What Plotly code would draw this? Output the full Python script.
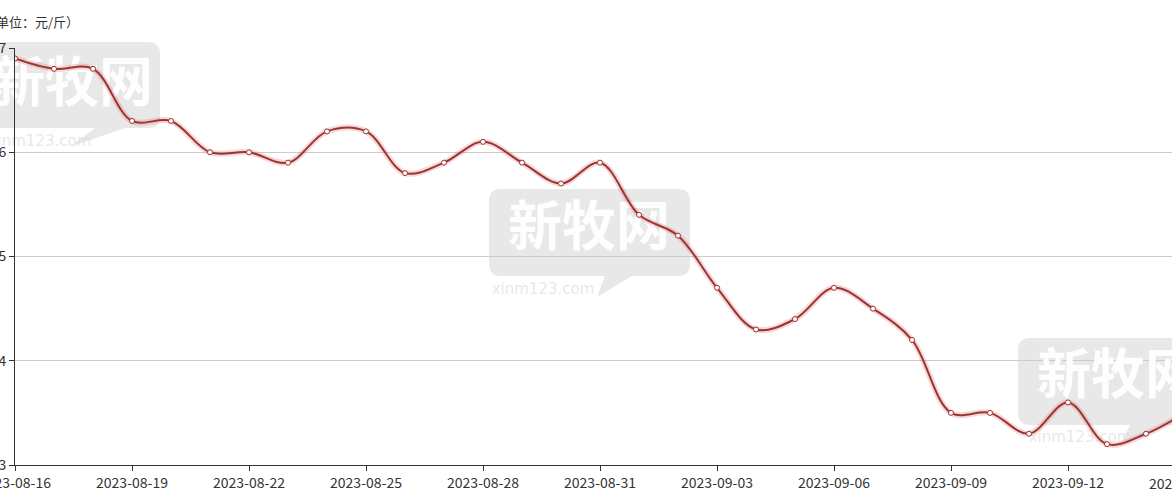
import plotly.graph_objects as go
import pandas as pd

# ---- data ----
dates = pd.date_range("2023-08-16", "2023-09-15", freq="D").strftime("%Y-%m-%d").tolist()
prices = [6.9, 6.8, 6.8, 6.3, 6.3, 6.0, 6.0, 5.9, 6.2, 6.2,
          5.8, 5.9, 6.1, 5.9, 5.7, 5.9, 5.4, 5.2, 4.7, 4.3,
          4.4, 4.7, 4.5, 4.2, 3.5, 3.5, 3.3, 3.6, 3.2, 3.3, 3.5]
y_ticks = [3, 4, 5, 6, 7]
unit_label = "（单位：元/斤）"
watermark_text = "新牧网"
watermark_url = "xinm123.com"

# ---- geometry helpers (pixel layout of the figure) ----
W, H = 1172, 499
L, R, T, B = 15, 0, 48, 34
PX_PER_DAY = 39.0
x_max = (W - L - R) / PX_PER_DAY
idx = list(range(len(dates)))
Y0, Y1 = 3, 7
plot_h = H - T - B

def px2x(px):
    return (px - L) / PX_PER_DAY

def py2y(py):
    return Y0 + (H - B - py) / plot_h * (Y1 - Y0)

def px2paper(px):
    return (px - L) / (W - L - R)

def py2paper(py):
    return (H - B - py) / plot_h

def bubble_path(x0, y0, x1, y1, r, tail):
    def P(a, b):
        return f"{px2paper(a):.5f},{py2paper(b):.5f}"
    p = f"M {P(x0 + r, y0)} L {P(x1 - r, y0)} Q {P(x1, y0)} {P(x1, y0 + r)} "
    p += f"L {P(x1, y1 - r)} Q {P(x1, y1)} {P(x1 - r, y1)} "
    tx0, tx1, tipx, tipy = tail
    p += f"L {P(tx1, y1)} L {P(tipx, tipy)} L {P(tx0, y1)} "
    p += f"L {P(x0 + r, y1)} Q {P(x0, y1)} {P(x0, y1 - r)} "
    p += f"L {P(x0, y0 + r)} Q {P(x0, y0)} {P(x0 + r, y0)} Z"
    return p

boxes = [
    # x0, y0, x1, y1, tail(x0, x1, tipx, tipy), text center, url pos
    (-45, 42, 160, 128, (95, 125, 70, 147), (72, 88), (40, 142)),
    (489, 189, 690, 276, (605, 632, 597, 297), (589, 232), (543, 290)),
    (1018, 338, 1230, 425, (1130, 1160, 1120, 446), (1118, 380), (1080, 438)),
]

fig = go.Figure()

shapes = []
for b in boxes:
    shapes.append(dict(type="path", xref="paper", yref="paper", layer="below",
                       path=bubble_path(b[0], b[1], b[2], b[3], 12, b[4]),
                       fillcolor="rgba(200,200,200,0.42)", line=dict(width=0)))

# watermark texts (drawn beneath the line)
fig.add_trace(go.Scatter(
    x=[px2x(b[5][0]) for b in boxes], y=[py2y(b[5][1]) for b in boxes],
    mode="text", text=[watermark_text] * len(boxes),
    textfont=dict(size=54, color="rgba(255,255,255,0.95)",
                  family="Noto Sans CJK SC", weight="bold"),
    cliponaxis=False, hoverinfo="skip", showlegend=False))
fig.add_trace(go.Scatter(
    x=[px2x(b[6][0]) for b in boxes], y=[py2y(b[6][1]) for b in boxes],
    mode="text", text=[watermark_url] * len(boxes),
    textfont=dict(size=15, color="rgba(222,222,222,0.7)", family="Verdana, DejaVu Sans"),
    cliponaxis=False, hoverinfo="skip", showlegend=False))

line_color = "#983535"
# glow under line
fig.add_trace(go.Scatter(
    x=idx, y=prices, mode="lines",
    line=dict(color="rgba(235,110,110,0.28)", width=6, shape="spline", smoothing=1),
    hoverinfo="skip", showlegend=False))
# main line
fig.add_trace(go.Scatter(
    x=idx, y=prices, mode="lines+markers",
    line=dict(color=line_color, width=2, shape="spline", smoothing=1),
    marker=dict(size=5, color="white", line=dict(color=line_color, width=1)),
    customdata=dates, hovertemplate="%{customdata}: %{y}<extra></extra>",
    showlegend=False))

tick_idx = idx[::3]
fig.update_layout(
    width=W, height=H,
    margin=dict(l=L, r=R, t=T, b=B, pad=0),
    paper_bgcolor="white", plot_bgcolor="white",
    font=dict(family="Microsoft YaHei, Noto Sans CJK SC, sans-serif", size=14, color="#333"),
    shapes=shapes,
    xaxis=dict(range=[0, x_max], tickvals=tick_idx, ticktext=[dates[i] for i in tick_idx],
               showgrid=False, zeroline=False, showline=True, linecolor="#333", linewidth=1,
               ticks="outside", ticklen=5, tickcolor="#333", automargin=False,
               ticklabeloverflow="allow", tickfont=dict(size=14, color="#333")),
    yaxis=dict(range=[Y0, Y1], tickvals=y_ticks, showgrid=True, gridcolor="#cccccc",
               zeroline=False, showline=True, linecolor="#333", linewidth=1,
               ticks="outside", ticklen=5, tickcolor="#333", automargin=False,
               ticklabeloverflow="allow", tickfont=dict(size=14, color="#333")),
    annotations=[
        dict(text=unit_label, xref="paper", yref="paper",
             x=px2paper(81), y=py2paper(22), xanchor="right", yanchor="middle",
             showarrow=False, font=dict(size=13, color="#333")),
        dict(text=dates[-1], xref="paper", yref="paper",
             x=px2paper(L + idx[-1] * PX_PER_DAY), y=0, xanchor="center", yanchor="top",
             yshift=-6, showarrow=False, font=dict(size=14, color="#333")),
    ],
)

fig.write_html("out.html", config={"displayModeBar": False},
               post_script="document.body.style.margin='0px';")
